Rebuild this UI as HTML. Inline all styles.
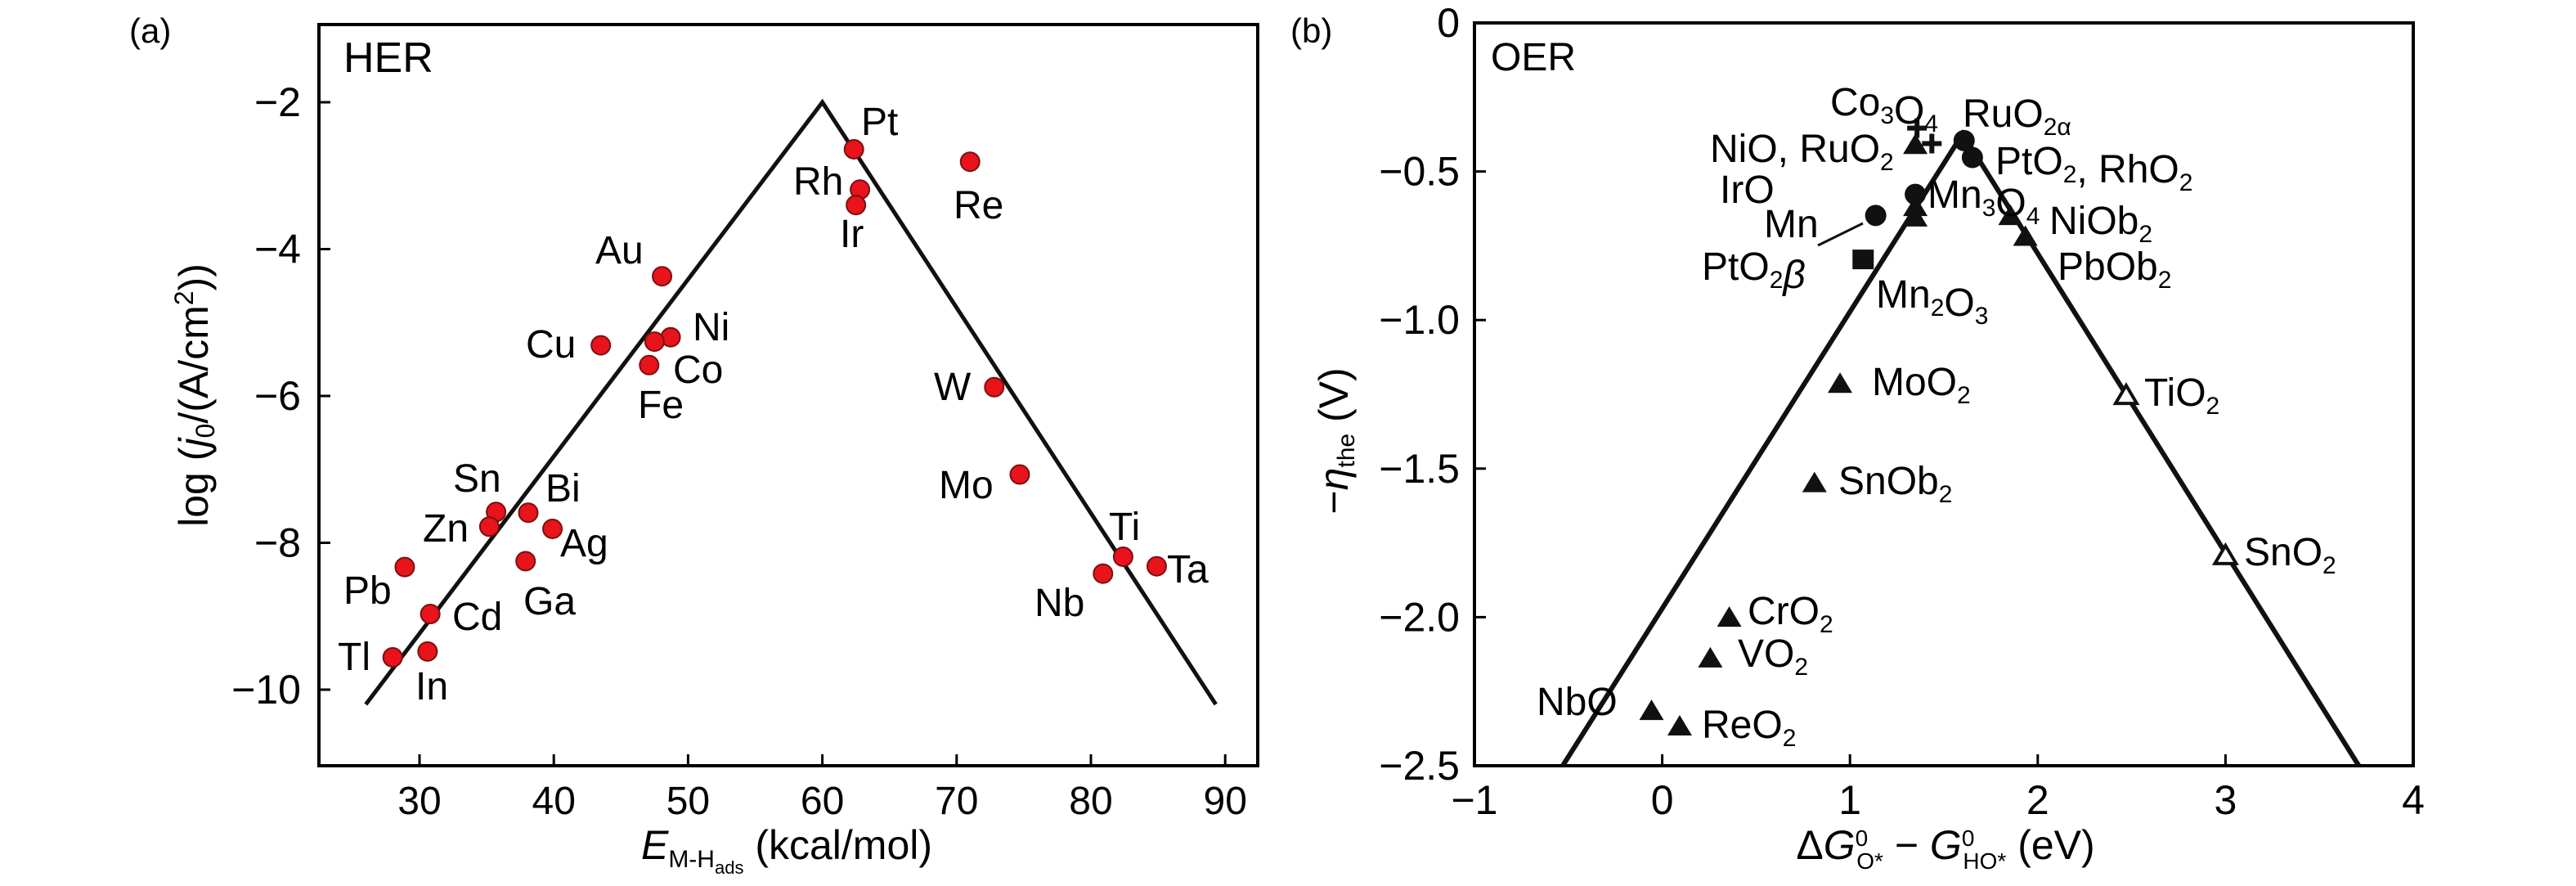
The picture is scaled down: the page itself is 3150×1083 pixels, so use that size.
<!DOCTYPE html>
<html><head><meta charset="utf-8"><style>
html,body{margin:0;padding:0;background:#fff;}
svg{display:block;font-family:"Liberation Sans Narrow","Liberation Sans",sans-serif;}
text{fill:#000;}
</style></head><body>
<svg id="chart" width="3150" height="1083" viewBox="0 0 3150 1083" xmlns="http://www.w3.org/2000/svg">
<g id="pa"></g>
<g id="pb"></g>
</svg>
<script>
// ---------- Panel (a) data ----------
const herNames = ["Pt","Re","Rh","Ir","Au","Ni","Co","Fe","Cu","W","Mo","Sn","Bi","Zn","Ag","Ga","Pb","Cd","Tl","In","Ti","Ta","Nb"];
const herX = [62.35,71.0,62.8,62.5,48.06,48.7,47.5,47.1,43.5,72.8,74.7,35.7,38.1,35.2,39.9,37.9,28.9,30.8,28.0,30.6,82.4,84.9,80.9];
const herY = [-2.64,-2.81,-3.19,-3.40,-4.37,-5.2,-5.26,-5.58,-5.31,-5.88,-7.07,-7.58,-7.59,-7.78,-7.81,-8.25,-8.33,-8.97,-9.56,-9.48,-8.19,-8.32,-8.42];
const herLineX = [26, 60, 89.3];
const herLineY = [-10.2, -2, -10.2];
const herXTicks = [30,40,50,60,70,80,90];
const herYTicks = [-2,-4,-6,-8,-10];
const herLabels = [["Pt",1053,165],["Rh",970,238],["Re",1166,267],["Ir",1027,302],["Au",728,322],["Ni",847,416],["Cu",643,437],["Co",823,468],["Fe",780,511],["W",1142,489],["Sn",554,601],["Bi",667,613],["Zn",517,662],["Ag",685,680],["Mo",1148,609],["Ti",1356,660],["Ta",1427,712],["Nb",1265,753],["Pb",420,738],["Ga",640,751],["Cd",553,770],["Tl",413,819],["In",508,855]];

// ---------- Panel (b) data ----------
const oerX = [1.348,1.357,1.436,1.608,1.652,1.137,1.348,1.348,1.348,1.07,1.855,1.934,0.947,2.471,0.811,3.0,0.357,0.256,-0.057,0.093];
const oerY = [-0.411,-0.354,-0.406,-0.396,-0.453,-0.648,-0.577,-0.62,-0.655,-0.796,-0.65,-0.72,-1.215,-1.253,-1.549,-1.792,-2.002,-2.139,-2.316,-2.368];
const oerShape = ["tri","plus","plus","circle","circle","circle","circle","tri","tri","square","tri","tri","tri","otri","tri","otri","tri","tri","tri","tri"];
const oerLineX = [-0.53, 1.60, 3.71];
const oerLineY = [-2.5, -0.373, -2.5];
const oerXTicks = [-1,0,1,2,3,4];
const oerYTicks = [0,-0.5,-1.0,-1.5,-2.0,-2.5];
const oerYTickLabels = ["0","\u22120.5","\u22121.0","\u22121.5","\u22122.0","\u22122.5"];

const NS="http://www.w3.org/2000/svg";
function mk(tag, attrs, parent){const e=document.createElementNS(NS,tag);for(const k in attrs)e.setAttribute(k,attrs[k]);parent.appendChild(e);return e;}
function txt(parent,x,y,str,size,anchor){const t=mk('text',{x:x,y:y,'font-size':size,'text-anchor':anchor||'start'},parent);t.textContent=str;return t;}

// ===== Panel A =====
const A=document.getElementById('pa');
const ax=v=>513+(v-30)*16.42;
const ay=v=>125+(-2-v)*89.75;
const frameA=mk('path',{d:'M390 30 V936 H1538 V30 Z',fill:'none',stroke:'#000','stroke-width':4},A);


herXTicks.forEach(v=>{
  const l=mk('line',{x1:ax(v),x2:ax(v),y1:936,y2:922,stroke:'#000','stroke-width':3},A);
  
  
  const t=txt(A,ax(v),995,String(v),48,'middle');
  
  
});
herYTicks.forEach(v=>{
  const l=mk('line',{x1:390,x2:404,y1:ay(v),y2:ay(v),stroke:'#000','stroke-width':3},A);
  
  
  const t=txt(A,368,ay(v)+17,'\u2212'+Math.abs(v),50,'end');
  
  
});
const lineA=mk('polyline',{points:herLineX.map((x,i)=>ax(x)+','+ay(herLineY[i])).join(' '),fill:'none',stroke:'#111','stroke-width':5,'stroke-linejoin':'miter'},A);


herX.forEach((x,i)=>{
  const c=mk('circle',{cx:ax(x),cy:ay(herY[i]),r:11.5,fill:'#e8131b',stroke:'#7a1010','stroke-width':2},A);
  
  
});
herLabels.forEach(l=>{
  const t=txt(A,l[1],l[2],l[0],48);
  
  
});
</script>
<script>
(function(){
const A=document.getElementById('pa');
A.insertAdjacentHTML('beforeend',
'<text x="158" y="52" font-size="42">(a)</text>'+
'<text x="420" y="88" font-size="52">HER</text>'+
'<text transform="translate(254,483) rotate(-90)" font-size="50" text-anchor="middle">log (<tspan font-style="italic">j</tspan><tspan font-size="32" dy="8">0</tspan><tspan dy="-8">/(A/cm</tspan><tspan font-size="32" dy="-18">2</tspan><tspan dy="18">))</tspan></text>'+
'<text x="962" y="1050" font-size="50" text-anchor="middle"><tspan font-style="italic">E</tspan><tspan font-size="30" dy="10">M-H</tspan><tspan font-size="22" dy="8">ads</tspan><tspan dy="-18"> (kcal/mol)</tspan></text>');
})();
</script>
<script>
(function(){
const B=document.getElementById('pb');
const bx=v=>1803+(v+1)*229.6;
const by=v=>28+(-v)*363.2;
const fr=mk('path',{d:'M1803 28 V936 H2951 V28 Z',fill:'none',stroke:'#000','stroke-width':4},B);


oerXTicks.forEach(v=>{
  const l=mk('line',{x1:bx(v),x2:bx(v),y1:936,y2:922,stroke:'#000','stroke-width':3},B);
  
  
  const t=txt(B,bx(v),995,v<0?'\u2212'+Math.abs(v):String(v),50,'middle');
  
  
});
oerYTicks.forEach((v,i)=>{
  const l=mk('line',{x1:1803,x2:1817,y1:by(v),y2:by(v),stroke:'#000','stroke-width':3},B);
  
  
  const t=txt(B,1785,by(v)+17,oerYTickLabels[i],50,'end');
  
  
});
const ln=mk('polyline',{points:oerLineX.map((x,i)=>bx(x)+','+by(oerLineY[i])).join(' '),fill:'none',stroke:'#111','stroke-width':6},B);


const lead=mk('line',{x1:2223,y1:300,x2:2278,y2:273,stroke:'#111','stroke-width':3},B);


oerX.forEach((x,i)=>{
  const cx=bx(x),cy=by(oerY[i]),s=oerShape[i];let e;
  if(s==='circle'){e=mk('circle',{cx:cx,cy:cy,r:13,fill:'#111'},B);}
  else if(s==='square'){e=mk('rect',{x:cx-13,y:cy-12,width:26,height:24,fill:'#111'},B);}
  else if(s==='plus'){e=mk('path',{d:`M${cx-12} ${cy}H${cx+12}M${cx} ${cy-12}V${cy+12}`,stroke:'#111','stroke-width':6,fill:'none'},B);}
  else if(s==='otri'){e=mk('path',{d:`M${cx} ${cy-12}L${cx+13} ${cy+10}H${cx-13}Z`,fill:'#fff',stroke:'#111','stroke-width':4},B);}
  else{e=mk('path',{d:`M${cx} ${cy-14}L${cx+15} ${cy+11}H${cx-15}Z`,fill:'#111'},B);}
  
  
});
function L(x,y,html,name){B.insertAdjacentHTML('beforeend',`<text x="${x}" y="${y}" font-size="48">${html}</text>`);}
const sub=(s)=>`<tspan font-size="30" dy="10">${s}</tspan><tspan dy="-10"></tspan>`;
L(1823,86,'OER','oer-title');
L(2238,141,'Co'+sub('3')+'O'+sub('4'),'label-co3o4');
L(2400,155,'RuO'+sub('2α'),'label-ruo2a');
L(2091,198,'NiO, RuO'+sub('2'),'label-nio-ruo2');
L(2440,213,'PtO'+sub('2')+', RhO'+sub('2'),'label-pto2-rho2');
L(2103,248,'IrO','label-iro');
L(2357,254,'Mn'+sub('3')+'O'+sub('4'),'label-mn3o4');
L(2157,290,'Mn','label-mn');
L(2506,286,'NiOb'+sub('2'),'label-niob2');
L(2081,342,'PtO'+sub('2')+'<tspan font-style="italic">β</tspan>','label-pto2b');
L(2516,342,'PbOb'+sub('2'),'label-pbob2');
L(2294,376,'Mn'+sub('2')+'O'+sub('3'),'label-mn2o3');
L(2289,483,'MoO'+sub('2'),'label-moo2');
L(2622,496,'TiO'+sub('2'),'label-tio2');
L(2248,604,'SnOb'+sub('2'),'label-snob2');
L(2744,691,'SnO'+sub('2'),'label-sno2');
L(2137,763,'CrO'+sub('2'),'label-cro2');
L(2125,815,'VO'+sub('2'),'label-vo2');
L(1879,874,'NbO','label-nbo');
L(2081,902,'ReO'+sub('2'),'label-reo2');
B.insertAdjacentHTML('beforeend',
'<text x="1578" y="52" font-size="42">(b)</text>'+
'<text transform="translate(1648,539) rotate(-90)" font-size="50" text-anchor="middle">\u2212<tspan font-style="italic">η</tspan><tspan font-size="30" dy="8">the</tspan><tspan dy="-8"> (V)</tspan></text>'+
'<text x="2379" y="1050" font-size="50" text-anchor="middle">Δ<tspan font-style="italic">G</tspan><tspan font-size="28" dy="-16">0</tspan><tspan font-size="28" dx="-14" dy="28">O*</tspan><tspan dy="-12"> \u2212 </tspan><tspan font-style="italic">G</tspan><tspan font-size="28" dy="-16">0</tspan><tspan font-size="28" dx="-14" dy="28">HO*</tspan><tspan dy="-12"> (eV)</tspan></text>');
})();
</script>
</body></html>
